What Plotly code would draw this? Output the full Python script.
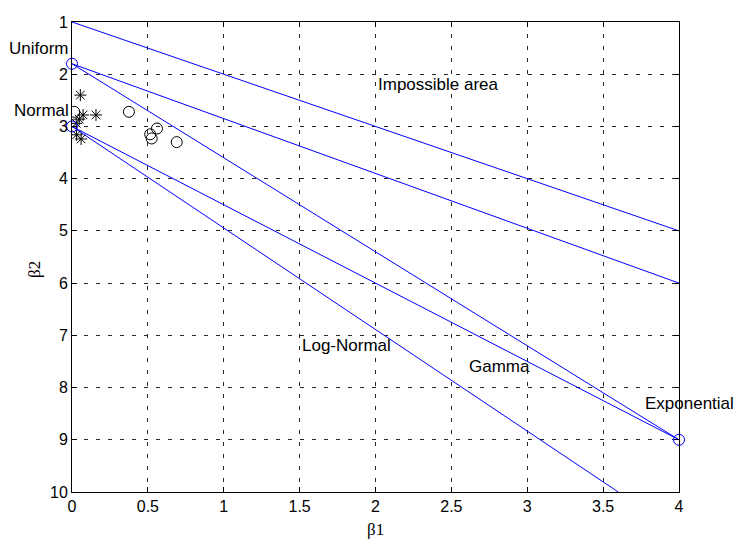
import plotly.graph_objects as go

# Boundary lines (beta1, beta2 endpoints)
line_impossible_x = [0, 4]
line_impossible_y = [1, 5]
line_unif_a_x = [0, 4]
line_unif_a_y = [1.8, 6]
line_unif_b_x = [0, 4]
line_unif_b_y = [1.8, 9]
line_gamma_x = [0, 4]
line_gamma_y = [3, 9]
line_lognorm_x = [0, 3.6]
line_lognorm_y = [3, 10]

# Reference distribution points
ref_x = [0, 0, 4]
ref_y = [1.8, 3, 9]

# Sample data (asterisks)
star_x = [0.055, 0.073, 0.158, 0.048, 0.028, 0.03, 0.06]
star_y = [2.40, 2.78, 2.78, 2.86, 2.94, 3.16, 3.24]

# Sample data (circles)
circ_x = [0.015, 0.375, 0.56, 0.515, 0.525, 0.69]
circ_y = [2.72, 2.72, 3.04, 3.15, 3.23, 3.30]

x_ticks = [0, 0.5, 1, 1.5, 2, 2.5, 3, 3.5, 4]
x_tick_labels = ["0", "0.5", "1", "1.5", "2", "2.5", "3", "3.5", "4"]
y_ticks = [1, 2, 3, 4, 5, 6, 7, 8, 9, 10]

# text, x, y, xanchor, xshift
labels = [
    ("Impossible area", 2.0, 2.2, "left", 0),
    ("Log-Normal", 1.5, 7.2, "left", 0),
    ("Gamma", 2.6, 7.6, "left", 0),
    ("Exponential", 4.0, 8.3, "right", 57),
    ("Uniform", 0.0, 1.5, "right", -1),
    ("Normal", 0.0, 2.7, "right", -1),
]

BLUE = "rgb(0,0,255)"
fig = go.Figure()
for xs, ys in [(line_impossible_x, line_impossible_y), (line_unif_a_x, line_unif_a_y),
               (line_unif_b_x, line_unif_b_y), (line_gamma_x, line_gamma_y),
               (line_lognorm_x, line_lognorm_y)]:
    fig.add_trace(go.Scatter(x=xs, y=ys, mode="lines", line=dict(color=BLUE, width=1),
                             showlegend=False, hoverinfo="skip", cliponaxis=False))

fig.add_trace(go.Scatter(x=star_x, y=star_y, mode="markers",
                         marker=dict(symbol="asterisk-open", size=10, color="black",
                                     line=dict(color="black", width=1)),
                         showlegend=False))
fig.add_trace(go.Scatter(x=circ_x, y=circ_y, mode="markers",
                         marker=dict(symbol="circle-open", size=11, color="black",
                                     line=dict(color="black", width=1)),
                         showlegend=False))
fig.add_trace(go.Scatter(x=ref_x, y=ref_y, mode="markers", cliponaxis=False,
                         marker=dict(symbol="circle-open", size=11, color=BLUE,
                                     line=dict(color=BLUE, width=1)),
                         showlegend=False))

for text, x, y, anchor, shift in labels:
    fig.add_annotation(x=x, y=y, text=text, showarrow=False, xanchor=anchor, yanchor="middle",
                       xshift=shift,
                       font=dict(family="Liberation Sans, Arial", size=17, color="black"))

fig.add_annotation(xref="paper", yref="paper", x=0.5, y=-0.08, text="β1", showarrow=False,
                   xanchor="center", yanchor="middle",
                   font=dict(family="Liberation Serif, Times New Roman", size=17, color="black"))
fig.add_annotation(xref="paper", yref="paper", x=-0.061, y=0.4746, text="β2", showarrow=False,
                   textangle=-90, xanchor="center", yanchor="middle",
                   font=dict(family="Liberation Serif, Times New Roman", size=17, color="black"))

axis_common = dict(showline=True, linecolor="black", linewidth=1, mirror="ticks",
                   ticks="inside", ticklen=5, tickcolor="black", tickwidth=1,
                   showgrid=True, gridcolor="rgb(40,40,40)", gridwidth=0.6, griddash="4px,8px",
                   zeroline=False, ticklabeloverflow="allow",
                   tickfont=dict(family="Liberation Sans, Arial", size=16, color="black"))

fig.update_xaxes(range=[0, 4], tickvals=x_ticks, ticktext=x_tick_labels, **axis_common)
fig.update_yaxes(range=[10, 1], tickvals=y_ticks, **axis_common)

# The page body adds an 8px margin, so the figure is sized to fit inside the window
# and its margins are offset so the plot area lands where the reference's does.
fig.update_layout(width=729, height=533, margin=dict(l=64, r=58, t=6, b=49),
                  plot_bgcolor="white", paper_bgcolor="white")

fig.write_html("out.html")
